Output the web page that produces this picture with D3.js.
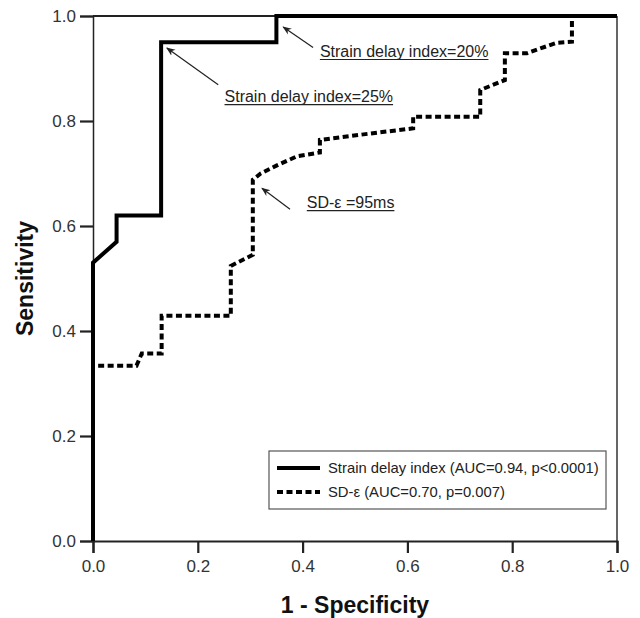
<!DOCTYPE html>
<html>
<head>
<meta charset="utf-8">
<script src="https://cdn.jsdelivr.net/npm/d3@7"></script>
<style>
  body { margin: 0; background: #fff; }
  svg { display: block; font-family: "Liberation Sans", Arial, sans-serif; }
</style>
</head>
<body>
<div id="chart"></div>
<script>
// ROC data: [1 - specificity, sensitivity]
const strainIndex = [
  [0, 0], [0, 0.53], [0.045, 0.57], [0.045, 0.62], [0.13, 0.62],
  [0.13, 0.95], [0.35, 0.95], [0.35, 1.0], [1.0, 1.0]
];
const sdEpsilon = [
  [0, 0], [0, 0.334], [0.083, 0.334], [0.093, 0.357], [0.131, 0.357],
  [0.131, 0.429], [0.263, 0.429], [0.263, 0.524], [0.305, 0.545],
  [0.305, 0.688], [0.32, 0.70], [0.35, 0.715], [0.39, 0.733], [0.433, 0.74],
  [0.433, 0.764], [0.52, 0.775], [0.611, 0.786], [0.611, 0.808],
  [0.739, 0.808], [0.739, 0.859], [0.786, 0.878], [0.786, 0.929],
  [0.828, 0.929], [0.853, 0.938], [0.885, 0.949], [0.914, 0.951],
  [0.914, 1.0], [1.0, 1.0]
];
const tickVals = [0, 0.2, 0.4, 0.6, 0.8, 1.0];
const legendLabels = [
  "Strain delay index (AUC=0.94, p<0.0001)",
  "SD-\u03b5 (AUC=0.70, p=0.007)"
];
// annotations: text, label position, arrow tail, arrow head (data units)
const notes = [
  { text: "Strain delay index=20%", at: [0.433, 0.922], from: [0.42, 0.94], to: [0.363, 0.979] },
  { text: "Strain delay index=25%", at: [0.251, 0.836], from: [0.239, 0.869], to: [0.141, 0.939] },
  { text: "SD-\u03b5 =95ms", at: [0.408, 0.634], from: [0.376, 0.632], to: [0.3225, 0.672] }
];

const W = 640, H = 618;
const m = { top: 16, right: 23, bottom: 77, left: 93 };

const svg = d3.select("#chart").append("svg")
  .attr("width", W)
  .attr("height", H);

const x = d3.scaleLinear().domain([0, 1]).range([m.left, W - m.right]);
const y = d3.scaleLinear().domain([0, 1]).range([H - m.bottom, m.top]);

// frame (top + right)
svg.append("line")
  .attr("x1", x(0)).attr("x2", x(1)).attr("y1", y(1)).attr("y2", y(1))
  .attr("stroke", "#222").attr("stroke-width", 2);
svg.append("line")
  .attr("x1", x(1)).attr("x2", x(1)).attr("y1", y(1)).attr("y2", y(0))
  .attr("stroke", "#333").attr("stroke-width", 1.5);

// axes
const fmt = d3.format(".1f");
const gx = svg.append("g")
  .attr("transform", "translate(0," + y(0) + ")")
  .call(d3.axisBottom(x).tickValues(tickVals).tickFormat(fmt).tickSize(12).tickPadding(7));
const gy = svg.append("g")
  .attr("transform", "translate(" + x(0) + ",0)")
  .call(d3.axisLeft(y).tickValues(tickVals).tickFormat(fmt).tickSize(13).tickPadding(4));

gx.select(".domain").attr("stroke", "#222").attr("stroke-width", 2);
gy.select(".domain").attr("stroke", "#222").attr("stroke-width", 1.5);
[gx, gy].forEach(g => {
  g.selectAll(".tick line").attr("stroke", "#222").attr("stroke-width", 2.2);
  g.selectAll(".tick text")
    .attr("fill", "#333")
    .style("font-size", "17px");
});

// axis titles
svg.append("text")
  .attr("x", (x(0) + x(1)) / 2)
  .attr("y", 613)
  .attr("text-anchor", "middle")
  .style("font-size", "23px")
  .style("font-weight", "bold")
  .attr("fill", "#111")
  .text("1 - Specificity");

svg.append("text")
  .attr("transform", "translate(33," + ((y(0) + y(1)) / 2) + ") rotate(-90)")
  .attr("text-anchor", "middle")
  .style("font-size", "23px")
  .style("font-weight", "bold")
  .attr("fill", "#111")
  .text("Sensitivity");

// curves
const line = d3.line().x(d => x(d[0])).y(d => y(d[1]));

svg.append("path")
  .datum(strainIndex)
  .attr("d", line)
  .attr("fill", "none")
  .attr("stroke", "#000")
  .attr("stroke-width", 4)
  .attr("stroke-linejoin", "miter");

svg.append("path")
  .datum(sdEpsilon)
  .attr("d", line)
  .attr("fill", "none")
  .attr("stroke", "#000")
  .attr("stroke-width", 4)
  .attr("stroke-dasharray", "6,3.5");

// arrows
svg.append("defs").append("marker")
  .attr("id", "head")
  .attr("viewBox", "0 0 10 10")
  .attr("refX", 9).attr("refY", 5)
  .attr("markerWidth", 9).attr("markerHeight", 9)
  .attr("markerUnits", "userSpaceOnUse")
  .attr("orient", "auto")
  .append("path")
  .attr("d", "M0,1 L10,5 L0,9 L3,5 Z")
  .attr("fill", "#222");

const ann = svg.selectAll(".note")
  .data(notes)
  .enter().append("g")
  .attr("class", "note");

ann.append("line")
  .attr("x1", d => x(d.from[0])).attr("y1", d => y(d.from[1]))
  .attr("x2", d => x(d.to[0])).attr("y2", d => y(d.to[1]))
  .attr("stroke", "#222").attr("stroke-width", 1.2)
  .attr("marker-end", "url(#head)");

ann.append("text")
  .attr("x", d => x(d.at[0]))
  .attr("y", d => y(d.at[1]))
  .style("font-size", "16px")
  .attr("fill", "#222")
  .text(d => d.text)
  .each(function(d) {
    const w = this.getComputedTextLength();
    d3.select(this.parentNode).append("line")
      .attr("x1", x(d.at[0])).attr("x2", x(d.at[0]) + w)
      .attr("y1", y(d.at[1]) + 2.5).attr("y2", y(d.at[1]) + 2.5)
      .attr("stroke", "#222").attr("stroke-width", 1.1);
  });

// legend
const lg = svg.append("g").attr("transform", "translate(269,451)");
lg.append("rect")
  .attr("width", 337).attr("height", 58)
  .attr("fill", "#fff")
  .attr("stroke", "#555").attr("stroke-width", 1.2);

const rows = lg.selectAll(".row")
  .data(legendLabels)
  .enter().append("g")
  .attr("transform", (d, i) => "translate(0," + (17 + i * 24) + ")");

rows.append("line")
  .attr("x1", 8).attr("x2", 51)
  .attr("stroke", "#000").attr("stroke-width", 4)
  .attr("stroke-dasharray", (d, i) => i === 0 ? null : "6,3.5");

rows.append("text")
  .attr("x", 59)
  .attr("dy", "0.35em")
  .style("font-size", "14.8px")
  .attr("fill", "#222")
  .text(d => d);
</script>
</body>
</html>
